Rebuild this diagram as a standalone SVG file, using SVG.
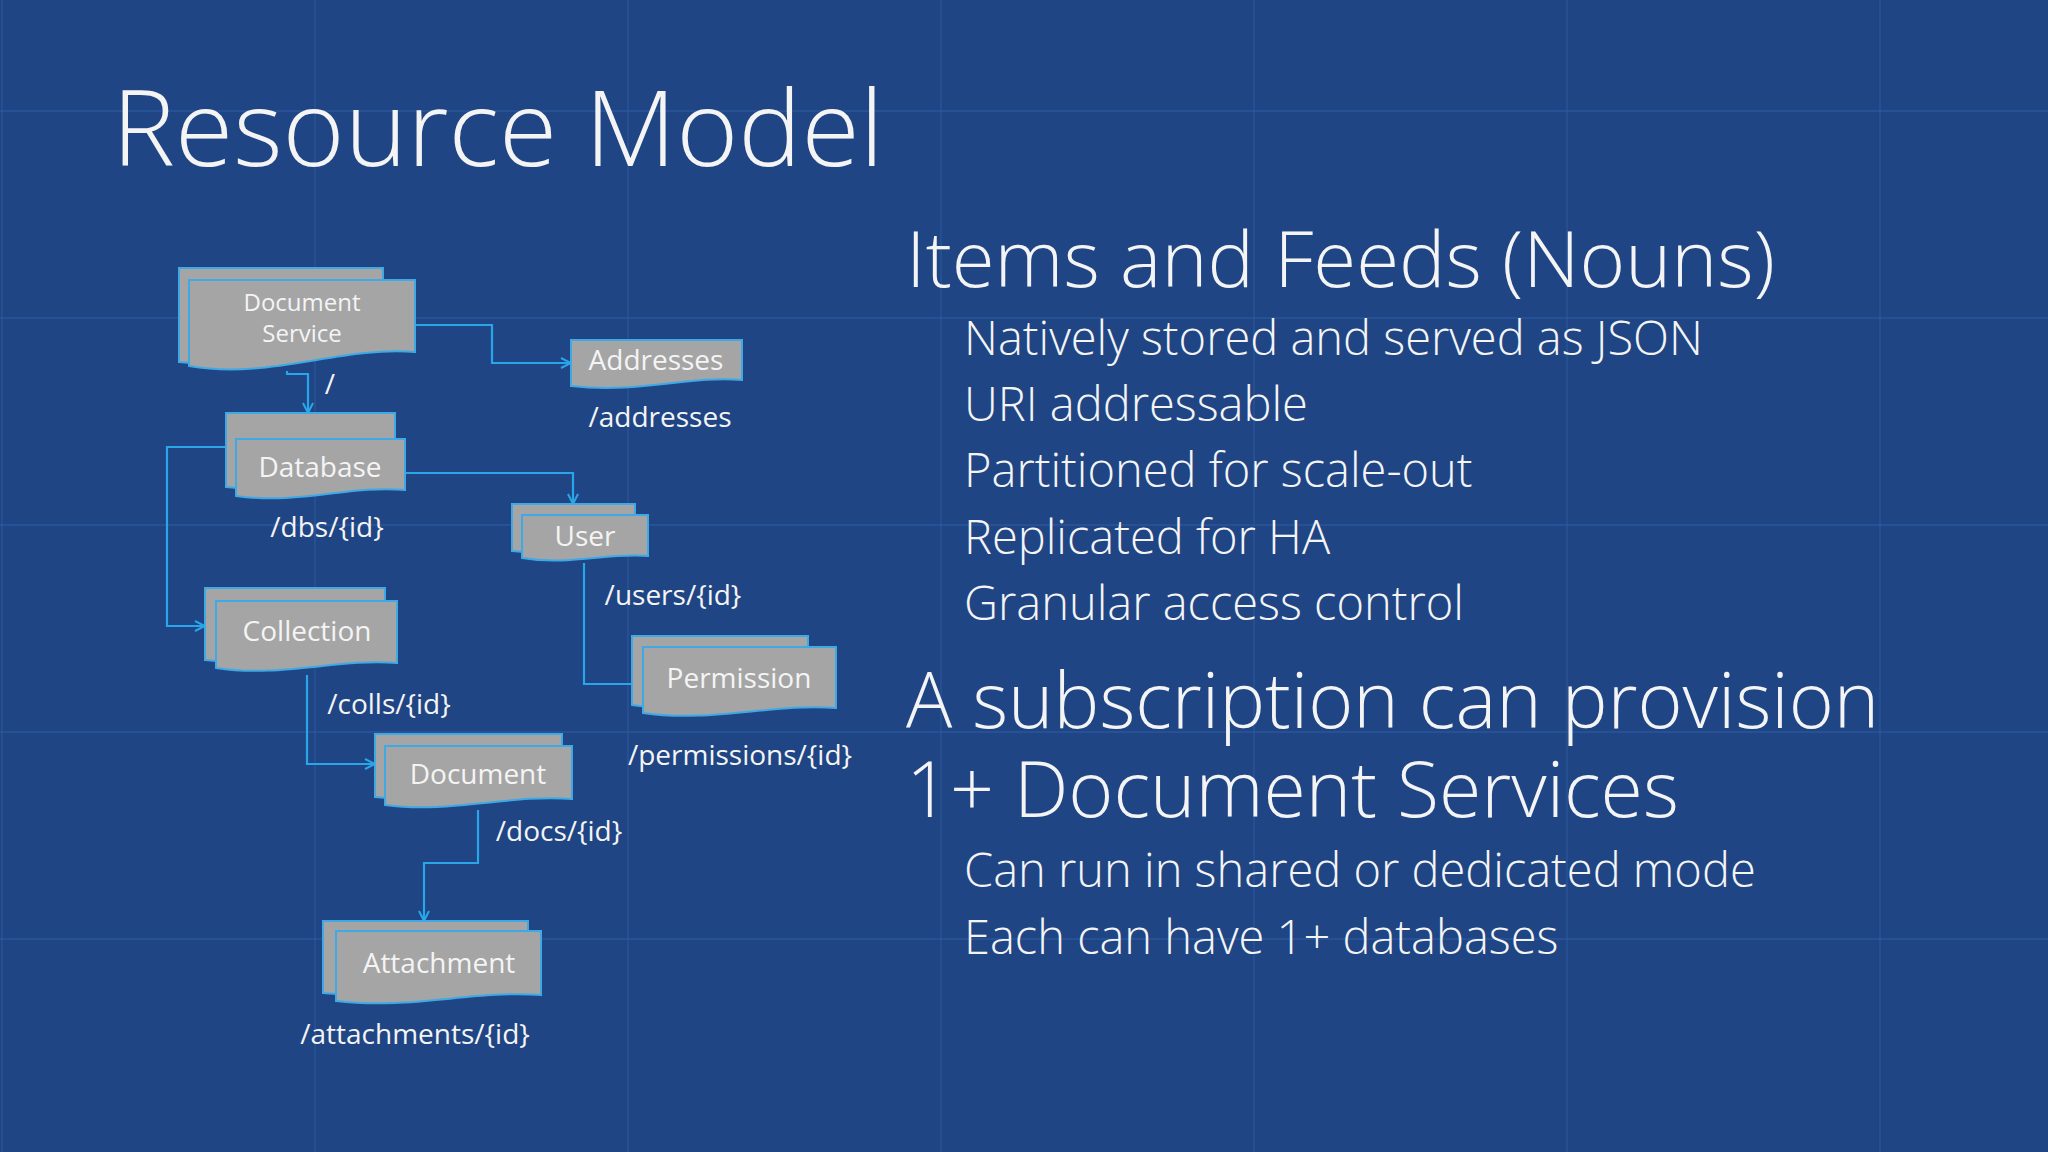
<svg xmlns="http://www.w3.org/2000/svg" width="2048" height="1152" viewBox="0 0 2048 1152">
<style>
.doc{fill:#a5a5a5;stroke:#3fa9e6;stroke-width:2}
.t{font-family:"Open Sans","Noto Sans",sans-serif;fill:#f4f4f4}
.nt{font-size:28px;text-anchor:middle}
.lb{font-size:28px;text-anchor:middle}
.c{fill:none;stroke:#29a6ea;stroke-width:2.2}
.g{stroke:#3060a8;stroke-width:1.3;opacity:0.6}
</style>
<defs>
<marker id="a" viewBox="0 0 12 12" refX="11" refY="6" markerWidth="12" markerHeight="12" markerUnits="userSpaceOnUse" orient="auto"><path d="M1,1 L11,6 L1,11" fill="none" stroke="#29a6ea" stroke-width="2"/></marker>
</defs>
<rect width="2048" height="1152" fill="#1f4584"/>
<g id="grid">
<line class="g" x1="2" y1="0" x2="2" y2="1152"/><line class="g" x1="315" y1="0" x2="315" y2="1152"/><line class="g" x1="628" y1="0" x2="628" y2="1152"/><line class="g" x1="941" y1="0" x2="941" y2="1152"/><line class="g" x1="1254" y1="0" x2="1254" y2="1152"/><line class="g" x1="1567" y1="0" x2="1567" y2="1152"/><line class="g" x1="1880" y1="0" x2="1880" y2="1152"/>
<line class="g" x1="0" y1="111" x2="2048" y2="111"/><line class="g" x1="0" y1="318" x2="2048" y2="318"/><line class="g" x1="0" y1="525" x2="2048" y2="525"/><line class="g" x1="0" y1="732" x2="2048" y2="732"/><line class="g" x1="0" y1="939" x2="2048" y2="939"/>
</g>
<text class="t" x="112" y="166" font-size="106" font-weight="300">Resource Model</text>
<g id="text-right" class="t">
<text x="906" y="287" font-size="78" font-weight="300">Items and Feeds (Nouns)</text>
<text x="964" y="355" font-size="47" font-weight="300">Natively stored and served as JSON</text>
<text x="964" y="421" font-size="47" font-weight="300">URI addressable</text>
<text x="964" y="487" font-size="47" font-weight="300">Partitioned for scale-out</text>
<text x="964" y="554" font-size="47" font-weight="300">Replicated for HA</text>
<text x="964" y="620" font-size="47" font-weight="300">Granular access control</text>
<text x="906" y="728" font-size="77" font-weight="300">A subscription can provision</text>
<text x="906" y="817" font-size="77" font-weight="300">1+ Document Services</text>
<text x="964" y="887" font-size="47" font-weight="300">Can run in shared or dedicated mode</text>
<text x="964" y="954" font-size="47" font-weight="300">Each can have 1+ databases</text>
</g>
<g id="connectors">
<path class="c" d="M415,325 H492 V363 H571" marker-end="url(#a)"/>
<path class="c" d="M287,371 V374 H308 V413" marker-end="url(#a)"/>
<path class="c" d="M405,473 H573 V504" marker-end="url(#a)"/>
<path class="c" d="M226,447 H167 V626 H205" marker-end="url(#a)"/>
<path class="c" d="M584,563 V684 H643" marker-end="url(#a)"/>
<path class="c" d="M307,675 V764 H375" marker-end="url(#a)"/>
<path class="c" d="M478,810 V863 H424 V921" marker-end="url(#a)"/>
</g>
<g id="docservice">
<path class="doc" d="M179,268 H383 V350 C320,344 260,372 179,362 Z"/>
<path class="doc" d="M189,280 H415 V352 C340,346 270,380 189,366 Z"/>
<text class="t" x="302" y="311" font-size="24" text-anchor="middle">Document</text>
<text class="t" x="302" y="342" font-size="24" text-anchor="middle">Service</text>
<text class="t lb" x="330" y="394">/</text>
</g>
<g id="addresses">
<path class="doc" d="M571,340 H742 V380 C690,375 640,394 571,386 Z"/>
<text class="t nt" x="656" y="370">Addresses</text>
<text class="t lb" x="660" y="427">/addresses</text>
</g>
<g id="database">
<path class="doc" d="M226,413 H395 V480 C340,475 290,494 226,487 Z"/>
<path class="doc" d="M236,439 H405 V490 C350,485 300,505 236,496 Z"/>
<text class="t nt" x="320" y="477">Database</text>
<text class="t lb" x="327" y="537">/dbs/{id}</text>
</g>
<g id="user">
<path class="doc" d="M512,504 H635 V548 C600,544 560,556 512,551 Z"/>
<path class="doc" d="M522,515 H648 V556 C610,552 570,566 522,558 Z"/>
<text class="t nt" x="585" y="546">User</text>
<text class="t lb" x="673" y="605">/users/{id}</text>
</g>
<g id="collection">
<path class="doc" d="M205,588 H385 V655 C330,650 270,668 205,660 Z"/>
<path class="doc" d="M216,601 H397 V663 C340,658 280,678 216,668 Z"/>
<text class="t nt" x="307" y="641">Collection</text>
<text class="t lb" x="389" y="714">/colls/{id}</text>
</g>
<g id="permission">
<path class="doc" d="M632,636 H808 V700 C750,695 690,713 632,705 Z"/>
<path class="doc" d="M643,647 H836 V708 C775,703 710,723 643,713 Z"/>
<text class="t nt" x="739" y="688">Permission</text>
<text class="t lb" x="740" y="765">/permissions/{id}</text>
</g>
<g id="document">
<path class="doc" d="M375,734 H562 V792 C500,787 440,805 375,797 Z"/>
<path class="doc" d="M385,746 H572 V799 C510,794 450,814 385,805 Z"/>
<text class="t nt" x="478" y="784">Document</text>
<text class="t lb" x="559" y="841">/docs/{id}</text>
</g>
<g id="attachment">
<path class="doc" d="M323,921 H528 V988 C460,983 400,1001 323,993 Z"/>
<path class="doc" d="M336,931 H541 V995 C475,990 410,1010 336,1001 Z"/>
<text class="t nt" x="439" y="973">Attachment</text>
<text class="t lb" x="415" y="1044">/attachments/{id}</text>
</g>
</svg>
